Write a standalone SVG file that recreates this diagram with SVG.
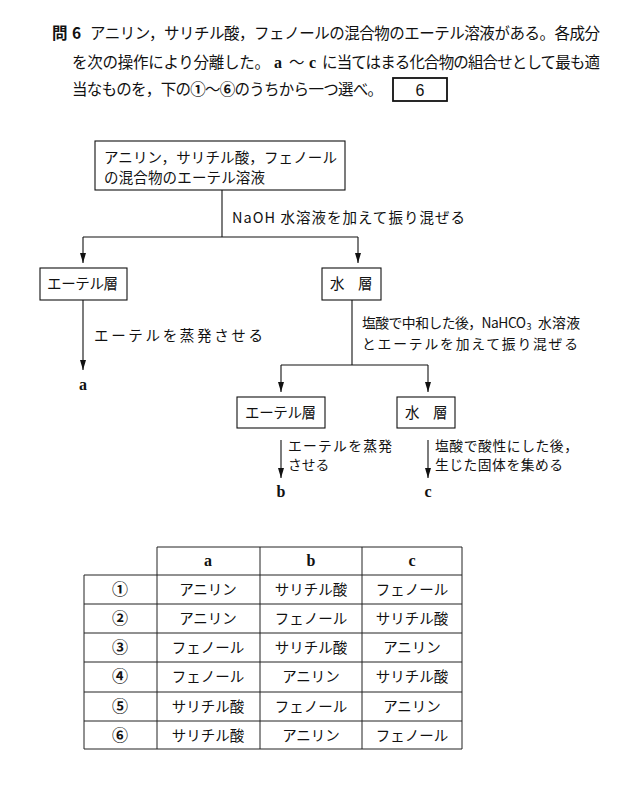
<svg xmlns="http://www.w3.org/2000/svg" width="630" height="792" viewBox="0 0 630 792">
<style>
.j{font-family:"Noto Sans CJK JP","Noto Sans",sans-serif;fill:#111}
.h{font-size:15.5px}
.d{font-size:14.5px}
.e{font-size:13.8px}
.s{font-family:"Liberation Serif",serif;font-weight:bold;fill:#111}
.box{fill:#fff;stroke:#111;stroke-width:1.1}
.ln{fill:none;stroke:#111;stroke-width:1.1}
.tb{fill:none;stroke:#222;stroke-width:1}
.c{text-anchor:middle}
</style>
<defs>
<marker id="ar" viewBox="0 0 10 6" refX="10" refY="3" markerWidth="10" markerHeight="6" markerUnits="userSpaceOnUse" orient="auto">
<path d="M0,0 L10,3 L0,6 Z" fill="#111"/>
</marker>
</defs>
<g id="question">
<text class="j" x="52" y="39" font-size="15.5" font-weight="bold">問</text>
<text class="j" x="72" y="39" font-size="15.5" font-weight="bold">6</text>
<text class="j h" x="90" y="39" textLength="510" lengthAdjust="spacing">アニリン，サリチル酸，フェノールの混合物のエーテル溶液がある。各成分</text>
<text class="j h" x="72" y="68" textLength="198" lengthAdjust="spacing">を次の操作により分離した。</text>
<text class="s" x="274" y="68" font-size="16">a</text>
<text class="j h" x="289" y="68">～</text>
<text class="s" x="309" y="68" font-size="16">c</text>
<text class="j h" x="322" y="68" textLength="278" lengthAdjust="spacing">に当てはまる化合物の組合せとして最も適</text>
<text class="j h" x="72" y="95" textLength="311" lengthAdjust="spacing">当なものを，下の<tspan font-weight="bold">①</tspan>～<tspan font-weight="bold">⑥</tspan>のうちから一つ選べ。</text>
<rect x="393" y="78" width="54" height="23" fill="#fff" stroke="#111" stroke-width="1.8"/>
<text x="420" y="96" font-family="Liberation Sans,Arial,sans-serif" font-size="16" text-anchor="middle" fill="#111">6</text>
</g>
<g id="connectors">
<path class="ln" d="M222,190 V237"/>
<path class="ln" d="M83,237 H358"/>
<path class="ln" d="M83,237 V263" marker-end="url(#ar)"/>
<path class="ln" d="M358,237 V263" marker-end="url(#ar)"/>
<path class="ln" d="M83,300 V370" marker-end="url(#ar)"/>
<path class="ln" d="M352,300 V365"/>
<path class="ln" d="M281,365 H428"/>
<path class="ln" d="M281,365 V392" marker-end="url(#ar)"/>
<path class="ln" d="M428,365 V392" marker-end="url(#ar)"/>
<path class="ln" d="M281,440 V478" marker-end="url(#ar)"/>
<path class="ln" d="M428,440 V478" marker-end="url(#ar)"/>
<text class="j d" x="232" y="223" textLength="233" lengthAdjust="spacing">NaOH 水溶液を加えて振り混ぜる</text>
<text class="j d" x="94" y="341" textLength="169" lengthAdjust="spacing">エーテルを蒸発させる</text>
<text class="j e" x="362" y="328" textLength="164" lengthAdjust="spacing">塩酸で中和した後，NaHCO</text>
<text class="j" x="526.5" y="330" font-size="9">3</text>
<text class="j e" x="538" y="328" textLength="42" lengthAdjust="spacing">水溶液</text>
<text class="j e" x="362" y="349" textLength="216" lengthAdjust="spacing">とエーテルを加えて振り混ぜる</text>
<text class="j e" x="288" y="451" textLength="104" lengthAdjust="spacing">エーテルを蒸発</text>
<text class="j e" x="288" y="470">させる</text>
<text class="j e" x="435" y="451" textLength="143" lengthAdjust="spacing">塩酸で酸性にした後，</text>
<text class="j e" x="435" y="470" textLength="128" lengthAdjust="spacing">生じた固体を集める</text>
</g>
<g id="start">
<rect class="box" x="95" y="141" width="250" height="49"/>
<text class="j d" x="104" y="163" textLength="233" lengthAdjust="spacing">アニリン，サリチル酸，フェノール</text>
<text class="j d" x="104" y="183" textLength="161" lengthAdjust="spacing">の混合物のエーテル溶液</text>
</g>
<g id="ether1">
<rect class="box" x="40" y="268" width="87" height="32"/>
<text class="j d" x="47" y="289" textLength="71" lengthAdjust="spacing">エーテル層</text>
</g>
<g id="water1">
<rect class="box" x="322" y="268" width="59" height="32"/>
<text class="j d" x="330" y="289">水</text>
<text class="j d" x="358" y="289">層</text>
</g>
<g id="ether2">
<rect class="box" x="237" y="397" width="88" height="31"/>
<text class="j d" x="245" y="418" textLength="71" lengthAdjust="spacing">エーテル層</text>
</g>
<g id="water2">
<rect class="box" x="397" y="397" width="58" height="31"/>
<text class="j d" x="405" y="418">水</text>
<text class="j d" x="433" y="418">層</text>
</g>
<g id="a"><text class="s c" x="83" y="390" font-size="16">a</text></g>
<g id="b"><text class="s c" x="281" y="497" font-size="16">b</text></g>
<g id="c"><text class="s c" x="428" y="497" font-size="16">c</text></g>
<g id="table">
<path class="tb" d="M157,547 H462 V749 H84 V575 H462 M157,547 V749 M260,547 V749 M362,547 V749 M84,604 H462 M84,633 H462 M84,662 H462 M84,692 H462 M84,721 H462"/>
<g class="s c" font-size="16">
<text x="208" y="566">a</text><text x="311" y="566">b</text><text x="412" y="566">c</text>
</g>
<g class="j c" font-size="16" font-weight="bold">
<text x="120" y="595">①</text><text x="120" y="624">②</text><text x="120" y="653">③</text>
<text x="120" y="682">④</text><text x="120" y="712">⑤</text><text x="120" y="741">⑥</text>
</g>
<g class="j d c">
<text x="208" y="595">アニリン</text><text x="311" y="595">サリチル酸</text><text x="412" y="595">フェノール</text>
<text x="208" y="624">アニリン</text><text x="311" y="624">フェノール</text><text x="412" y="624">サリチル酸</text>
<text x="208" y="653">フェノール</text><text x="311" y="653">サリチル酸</text><text x="412" y="653">アニリン</text>
<text x="208" y="682">フェノール</text><text x="311" y="682">アニリン</text><text x="412" y="682">サリチル酸</text>
<text x="208" y="712">サリチル酸</text><text x="311" y="712">フェノール</text><text x="412" y="712">アニリン</text>
<text x="208" y="741">サリチル酸</text><text x="311" y="741">アニリン</text><text x="412" y="741">フェノール</text>
</g>
</g>
</svg>
